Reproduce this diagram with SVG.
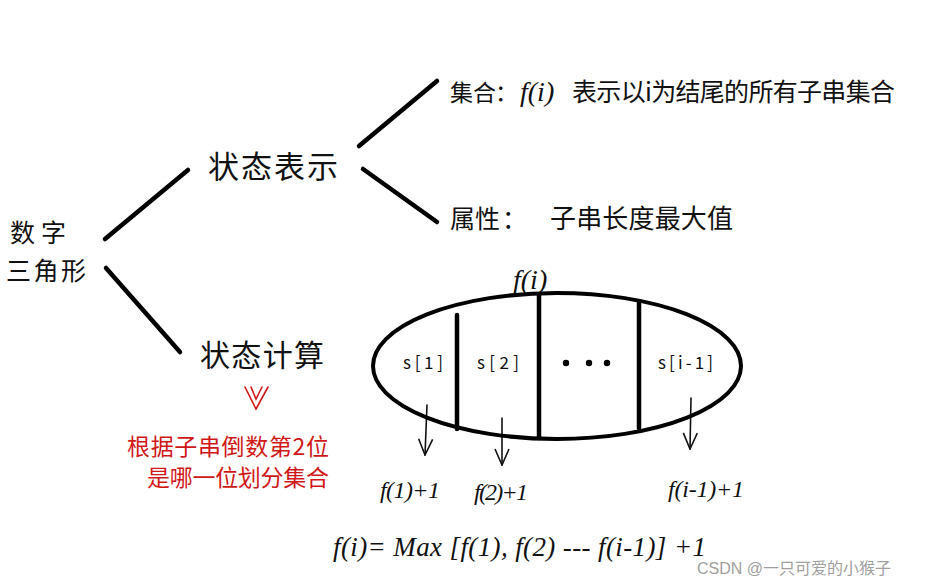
<svg xmlns="http://www.w3.org/2000/svg" width="946" height="588" viewBox="0 0 946 588">
<defs>
<style>
.t{font-family:"Noto Sans CJK SC","Liberation Sans",sans-serif;fill:#111;}
.m{font-family:"Liberation Serif","Noto Sans CJK SC",serif;font-style:italic;fill:#111;}
.r{font-family:"Noto Sans CJK SC","Liberation Sans",sans-serif;fill:#d01818;}
.ln{stroke:#000;stroke-width:4.5;stroke-linecap:round;fill:none;}
.thin{stroke:#111;stroke-width:1.6;fill:none;stroke-linecap:round;}
.wm{font-family:"Liberation Sans","Noto Sans CJK SC",sans-serif;fill:#a0a0a0;}
</style>
<marker id="ah" viewBox="0 0 18 16" refX="17" refY="8" markerWidth="18" markerHeight="16" markerUnits="userSpaceOnUse" orient="auto">
<path d="M1,1 L17,8 L1,15" fill="none" stroke="#111" stroke-width="1.6"/>
</marker>
</defs>
<rect width="946" height="588" fill="#fff"/>

<g id="connectors">
<line class="ln" x1="105" y1="239" x2="188" y2="170"/>
<line class="ln" x1="106" y1="268" x2="180" y2="352"/>
<line class="ln" x1="359" y1="146" x2="437" y2="81"/>
<line class="ln" x1="363" y1="169" x2="437" y2="222"/>
<path class="thin" d="M427,405 L425,455" marker-end="url(#ah)"/>
<path class="thin" d="M502,418 L502,465" marker-end="url(#ah)"/>
<path class="thin" d="M691,398 L690,449" marker-end="url(#ah)"/>
<path d="M245,387 L256,409 L268,387 M251,387 L256,399 L262,387" fill="none" stroke="#d01818" stroke-width="1.6" stroke-linecap="round"/>
</g>

<g id="root">
<text class="t" x="10" y="242" font-size="25" textLength="56">数字</text>
<text class="t" x="6" y="280" font-size="25" textLength="80">三角形</text>
</g>

<g id="state-repr">
<text class="t" x="208" y="178" font-size="31" textLength="130">状态表示</text>
</g>

<g id="set">
<text class="t" x="450" y="101" font-size="23">集合</text>
<text class="t" x="495" y="101" font-size="23">：</text>
<text class="m" x="520" y="101" font-size="28">f(i)</text>
<text class="t" x="572" y="101" font-size="25" textLength="323">表示以i为结尾的所有子串集合</text>
</g>

<g id="attr">
<text class="t" x="450" y="228" font-size="25">属性</text>
<text class="t" x="502" y="228" font-size="25">：</text>
<text class="t" x="550" y="228" font-size="26" textLength="183">子串长度最大值</text>
</g>

<g id="state-calc">
<text class="t" x="200" y="366" font-size="30" textLength="124">状态计算</text>
</g>

<g id="red-note">
<text class="r" x="127" y="455" font-size="23" textLength="202">根据子串倒数第2位</text>
<text class="r" x="147" y="486" font-size="23" textLength="182">是哪一位划分集合</text>
</g>

<g id="set-ellipse">
<text class="m" x="513" y="289" font-size="28">f(i)</text>
<ellipse cx="557" cy="366" rx="184" ry="73" fill="none" stroke="#000" stroke-width="4"/>
<line class="ln" x1="457" y1="315" x2="457" y2="429" stroke-width="4"/>
<line class="ln" x1="539" y1="295" x2="539" y2="438" stroke-width="4"/>
<line class="ln" x1="639" y1="302" x2="639" y2="428" stroke-width="4"/>
<text class="t" x="403" y="369" font-size="17" textLength="40">s[1]</text>
<text class="t" x="477" y="369" font-size="17" textLength="42">s[2]</text>
<circle cx="566" cy="363" r="3.2" fill="#000"/>
<circle cx="589" cy="363" r="3.2" fill="#000"/>
<circle cx="607" cy="363" r="3.2" fill="#000"/>
<text class="t" x="658" y="369" font-size="17" textLength="55">s[i-1]</text>
</g>

<g id="results">
<text class="m" x="380" y="498" font-size="24" textLength="60">f(1)+1</text>
<text class="m" x="474" y="500" font-size="24" textLength="54">f(2)+1</text>
<text class="m" x="668" y="497" font-size="24" textLength="76">f(i-1)+1</text>
</g>

<g id="formula">
<text class="m" x="333" y="556" font-size="27" textLength="373">f(i)= Max [f(1), f(2) --- f(i-1)] +1</text>
</g>

<text class="wm" x="697" y="574" font-size="16">CSDN @一只可爱的小猴子</text>
</svg>
